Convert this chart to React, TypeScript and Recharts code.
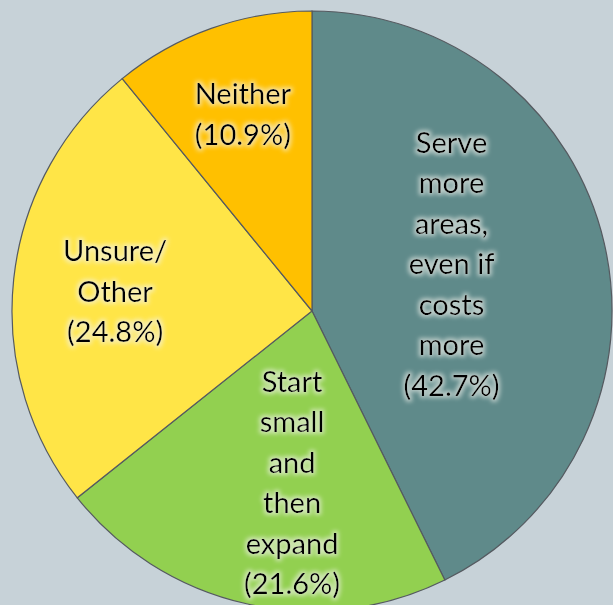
import React from "react";
import { PieChart, Pie, Cell } from "recharts";

const categories = [
  "Serve more areas, even if costs more",
  "Start small and then expand",
  "Unsure/Other",
  "Neither",
];
const values = [42.7, 21.6, 24.8, 10.9];
const labelLines = [
  ["Serve", "more", "areas,", "even if", "costs", "more"],
  ["Start", "small", "and", "then", "expand"],
  ["Unsure/", "Other"],
  ["Neither"],
];
const colors = ["#5f8a8a", "#92d050", "#ffe547", "#ffc000"];
const labelRadiusRatio = [0.493, 0.57, 0.66, 0.7];
const labelAngleShift = [6.2, 5.9, 0, -0.4];

const data = categories.map((name, i) => ({ name, value: values[i] }));

const RAD = Math.PI / 180;
const LINE_H = 40.5;

const renderLabel = (props: any) => {
  const { cx, cy, midAngle, outerRadius, index, value } = props;
  const r = outerRadius * labelRadiusRatio[index];
  const a = midAngle + labelAngleShift[index];
  const x = cx + r * Math.cos(-a * RAD);
  const y = cy + r * Math.sin(-a * RAD);
  const lines = [...labelLines[index], `(${value.toFixed(1)}%)`];
  const startY = y - ((lines.length - 1) * LINE_H) / 2;
  return (
    <text
      x={x}
      y={startY}
      textAnchor="middle"
      dominantBaseline="central"
      fill="#000"
      fontFamily="Lato, 'Open Sans', sans-serif"
      fontSize={29}
      filter="url(#glow)"
    >
      {lines.map((l, i) => (
        <tspan key={i} x={x} y={startY + i * LINE_H} dominantBaseline="central">
          {l}
        </tspan>
      ))}
    </text>
  );
};

export default function App() {
  return (
    <div
      style={{
        position: "absolute",
        left: 0,
        top: 0,
        width: 613,
        height: 605,
        background: "#c7d2d8",
        overflow: "hidden",
      }}
    >
      <PieChart width={613} height={605} margin={{ top: 0, right: 0, bottom: 0, left: 0 }}>
        <defs>
          <filter id="glow" x="-30%" y="-30%" width="160%" height="160%">
            <feMorphology in="SourceAlpha" operator="dilate" radius="2" result="d" />
            <feGaussianBlur in="d" stdDeviation="2.2" result="b" />
            <feFlood floodColor="#f4f4ee" floodOpacity="0.6" />
            <feComposite in2="b" operator="in" result="g" />
            <feMerge>
              <feMergeNode in="g" />
              <feMergeNode in="SourceGraphic" />
            </feMerge>
          </filter>
        </defs>
        <Pie
          data={data}
          dataKey="value"
          nameKey="name"
          cx={312}
          cy={311}
          outerRadius={300}
          startAngle={90}
          endAngle={-270}
          stroke="#555a60"
          strokeWidth={1.2}
          label={renderLabel}
          labelLine={false}
          isAnimationActive={false}
        >
          {data.map((d, i) => (
            <Cell key={d.name} fill={colors[i]} />
          ))}
        </Pie>
      </PieChart>
    </div>
  );
}
